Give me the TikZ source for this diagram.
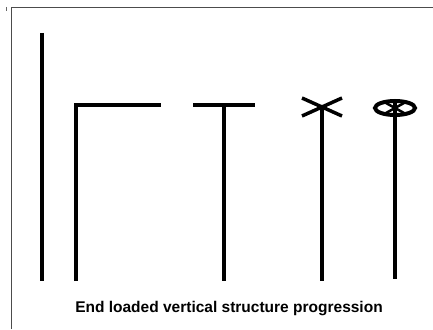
\documentclass[tikz,border=0pt]{standalone}
\usepackage{fontspec}
\setmainfont{Liberation Sans}
\begin{document}
\begin{tikzpicture}[x=1pt,y=-1pt,
  bar/.style={line width=3.5pt},
  frame/.style={line width=0.8pt, draw=black!70}]
\useasboundingbox (0,0) rectangle (433,329);
\coordinate (fa) at (11,329);
\coordinate (fb) at (11,7);
\coordinate (fc) at (433,7);
\draw[frame] (fa) -- (fb) -- (fc);
\coordinate (ta) at (6,7);
\coordinate (tb) at (6,11);
\draw[line width=0.6pt, draw=black!60] (ta) -- (tb);
% 1
\coordinate (a1) at (42,33);
\coordinate (b1) at (42,281);
\draw[bar] (a1) -- (b1);
% 2
\coordinate (a2) at (76,281);
\coordinate (c2) at (76,105);
\coordinate (d2) at (161,105);
\draw[bar] (a2) -- (c2) -- (d2);
% 3
\coordinate (a3) at (224,281);
\coordinate (c3) at (224,105);
\coordinate (l3) at (193,105);
\coordinate (r3) at (255,105);
\draw[bar] (l3) -- (r3);
\draw[bar] (c3) -- (a3);
% 4
\coordinate (a4) at (322,281);
\coordinate (c4) at (322,107);
\coordinate (p4) at (302,98);
\coordinate (q4) at (342,116);
\coordinate (r4) at (302,116);
\coordinate (s4) at (342,98);
\draw[bar] (p4) -- (q4);
\draw[bar] (r4) -- (s4);
\draw[bar] (c4) -- (a4);
% 5
\coordinate (c5) at (395,108);
\coordinate (t5) at (395,101);
\coordinate (a5) at (395,279);
\draw[bar] (t5) -- (a5);
\draw[line width=4pt] (c5) ellipse [x radius=20, y radius=7];
\draw[line width=2.5pt] (386,103) -- (404,113);
\draw[line width=2.5pt] (386,113) -- (404,103);
\node[font=\bfseries\fontsize{15.5}{18}\selectfont] (cap) at (229,309) {End loaded vertical structure progression};
\end{tikzpicture}
\end{document}
